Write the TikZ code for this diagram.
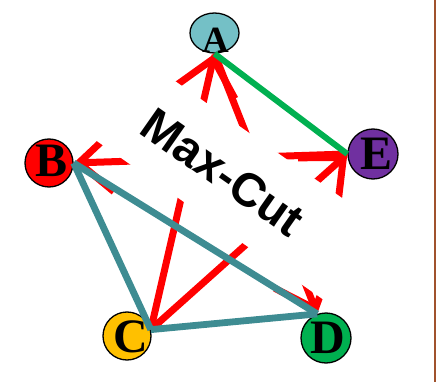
\documentclass[tikz,border=0pt]{standalone}
\usepackage{fontspec}
\setmainfont{Liberation Serif}
\newfontfamily\titlesans{Liberation Sans}
\usetikzlibrary{arrows.meta,shapes.geometric}
\definecolor{tealedge}{RGB}{62,140,146}
\definecolor{cutred}{RGB}{255,0,0}
\definecolor{samegreen}{RGB}{0,176,80}
\definecolor{nodeA}{RGB}{116,192,198}
\definecolor{nodeB}{RGB}{255,0,0}
\definecolor{nodeC}{RGB}{255,192,0}
\definecolor{nodeD}{RGB}{0,176,80}
\definecolor{nodeE}{RGB}{112,48,160}
\definecolor{frameline}{RGB}{160,82,45}
\newcommand{\vlabel}[3]{\makebox[0pt]{\kern#1\raisebox{\dimexpr-0.5\height-#2\relax}[0pt][0pt]{#3}}}
\begin{document}
\begin{tikzpicture}[x=1pt,y=-1pt,
  vertex/.style={circle, draw=black, line width=1.3pt, inner sep=0pt,
    font=\fontsize{48}{48}\selectfont\bfseries},
  cutedge/.style={draw=cutred, line width=7pt, -{Straight Barb[length=34pt,width=60pt]}},
  sameedge/.style={draw=tealedge, line width=6.8pt},
  greenedge/.style={draw=samegreen, line width=6pt},
  titlebox/.style={fill=white, rotate=-35, minimum width=320pt, minimum height=94pt,
    inner sep=0pt, font=\fontsize{47}{47}\selectfont\titlesans\bfseries}
]
\useasboundingbox (0,0) rectangle (436,382);
% vertices
\node[vertex, ellipse, fill=nodeA, minimum width=49pt, minimum height=40pt,
  font=\fontsize{37}{37}\selectfont\bfseries] (A) at (214.5,33) {\vlabel{2pt}{7pt}{A}};
\node[vertex, fill=nodeB, minimum size=48pt] (B) at (49,163) {\vlabel{5pt}{-2pt}{B}};
\node[vertex, fill=nodeC, minimum size=48pt] (C) at (127,336) {\vlabel{7pt}{1pt}{C}};
\node[vertex, fill=nodeD, minimum size=50pt] (D) at (326,338) {\vlabel{4pt}{0pt}{D}};
\node[vertex, fill=nodeE, minimum size=50pt] (E) at (373,154) {\vlabel{7pt}{0pt}{E}};
% cut edges
\draw[cutedge] (C.15) -- (A.south);
\draw[cutedge] (C.15) -- (E.west);
\draw[cutedge] (A.south) -- (D.110);
\draw[cutedge] (E.west) -- (B.east);
% title band
\node[titlebox] (title) at (223,172) {Max-Cut};
% same-side edges
\draw[sameedge] (B.east) -- (C.15);
\draw[sameedge] (B.east) -- (D.110);
\draw[sameedge] (C.15) -- (D.110);
\draw[greenedge] (A.south) -- (E.west);
% right frame line
\coordinate (ftop) at (434.8,0);
\coordinate (fbot) at (434.8,382);
\draw[frameline, line width=1.4pt] (ftop) -- (fbot);
\end{tikzpicture}
\end{document}
